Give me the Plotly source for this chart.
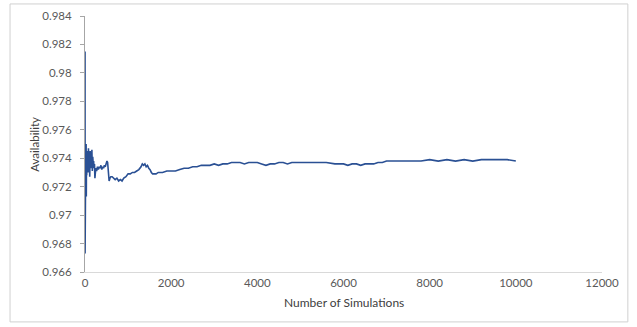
import plotly.graph_objects as go

# Number of simulations (x) and running availability estimate (y)
sims = [1, 2, 3, 4, 5, 6, 8, 10, 12, 15, 18, 22, 26, 30, 35, 40, 45, 50, 60, 70,
        80, 90, 100, 110, 120, 130, 140, 150, 160, 170, 180, 190, 200, 210, 220,
        230, 240, 250, 270, 290, 310, 330, 350, 370, 390, 410, 430, 450, 470, 490,
        510, 525, 540, 560, 580, 600, 630, 660, 700, 740, 780, 820, 860, 900, 950,
        1000, 1050, 1100, 1150, 1200, 1250, 1300, 1330, 1360, 1390, 1420, 1450,
        1480, 1510, 1540, 1570, 1600, 1650, 1700, 1800, 1900, 2000, 2100, 2200,
        2300, 2400, 2500, 2600, 2700, 2800, 2900, 3000, 3100, 3200, 3300, 3400,
        3500, 3600, 3700, 3800, 3900, 4000, 4100, 4200, 4300, 4400, 4500, 4600,
        4700, 4800, 4900, 5000, 5200, 5400, 5600, 5800, 6000, 6100, 6200, 6300,
        6400, 6500, 6600, 6700, 6800, 6900, 7000, 7200, 7400, 7600, 7800, 8000,
        8200, 8400, 8600, 8800, 9000, 9200, 9400, 9600, 9800, 10000]
availability = [0.9815, 0.9673, 0.9790, 0.9685, 0.9752, 0.9700, 0.9745, 0.9712, 0.9752, 0.9718,
                0.9748, 0.9735, 0.9750, 0.9713, 0.9742, 0.9728, 0.9745, 0.9732, 0.9740, 0.9730,
                0.9747, 0.9734, 0.9742, 0.9727, 0.9745, 0.9733, 0.9740, 0.9735, 0.9746, 0.9731,
                0.9741, 0.9736, 0.9738, 0.9733, 0.9736,
                0.9726, 0.9729, 0.9733, 0.9731, 0.9734, 0.9732, 0.9734, 0.9733, 0.9735, 0.9732,
                0.9734, 0.9733, 0.9735, 0.9734, 0.9736,
                0.9738, 0.9737, 0.9733, 0.9724, 0.9726, 0.9727, 0.9727, 0.9726, 0.9725, 0.9726,
                0.9724, 0.9725, 0.9724, 0.9726, 0.9727,
                0.9729, 0.9729, 0.9730, 0.9730, 0.9731, 0.9732, 0.9734, 0.9736, 0.9735, 0.9736,
                0.9734, 0.9735,
                0.9733, 0.9732, 0.9730, 0.9729, 0.9729, 0.9729, 0.9730, 0.9730, 0.9731, 0.9731,
                0.9731, 0.9732,
                0.9733, 0.9733, 0.9734, 0.9734, 0.9735, 0.9735, 0.9735, 0.9736, 0.9735, 0.9736,
                0.9736, 0.9737,
                0.9737, 0.9737, 0.9736, 0.9737, 0.9737, 0.9737, 0.9736, 0.9735, 0.9736, 0.9736,
                0.9737, 0.9737,
                0.9736, 0.9737, 0.9737, 0.9737, 0.9737, 0.9737, 0.9737, 0.9736, 0.9736, 0.9735,
                0.9736, 0.9736,
                0.9735, 0.9736, 0.9736, 0.9736, 0.9737, 0.9737, 0.9738, 0.9738, 0.9738, 0.9738,
                0.9738, 0.9739,
                0.9738, 0.9739, 0.9738, 0.9739, 0.9738, 0.9739, 0.9739, 0.9739, 0.9739, 0.9738]

y_ticks = [0.966, 0.968, 0.97, 0.972, 0.974, 0.976, 0.978, 0.98, 0.982, 0.984]
y_labels = ["0.966", "0.968", "0.97", "0.972", "0.974", "0.976", "0.978", "0.98", "0.982", "0.984"]
x_ticks = [0, 2000, 4000, 6000, 8000, 10000, 12000]
x_labels = ["0", "2000", "4000", "6000", "8000", "10000", "12000"]

fig = go.Figure()
fig.add_trace(go.Scatter(x=sims, y=availability, mode="lines",
                         line=dict(color="#2A5094", width=1.6), showlegend=False))

font_family = "Lato, Open Sans, sans-serif"
fig.update_layout(
    width=637, height=327,
    margin=dict(l=85, r=35, t=16, b=55),
    paper_bgcolor="white", plot_bgcolor="white",
    font=dict(family=font_family, color="#595959", size=11.5),
    xaxis=dict(range=[0, 12000], tickvals=x_ticks, ticktext=x_labels,
               showgrid=False, zeroline=False, showline=True, automargin=False,
               linecolor="#D9D9D9", linewidth=1, ticks=""),
    yaxis=dict(range=[0.966, 0.984], tickvals=y_ticks, ticktext=y_labels,
               showgrid=False, zeroline=False, showline=True, automargin=False,
               linecolor="#A6A6A6", linewidth=1, ticks="outside", ticklen=4,
               tickcolor="#A6A6A6", ticklabelstandoff=6),
    annotations=[
        dict(text="Number of Simulations", xref="paper", yref="paper",
             x=0.5, y=-0.082, xanchor="center", yanchor="top", showarrow=False,
             font=dict(size=12, color="#404040")),
        dict(text="Availability", xref="paper", yref="paper",
             x=-0.099, y=0.5, xanchor="center", yanchor="middle", showarrow=False,
             textangle=-90, font=dict(size=11.5, color="#404040")),
    ],
    shapes=[dict(type="rect", xref="paper", yref="paper",
                 x0=-0.145, x1=1.050, y0=-0.195, y1=1.047,
                 line=dict(color="#D0D0D0", width=1), fillcolor="rgba(0,0,0,0)")],
)

fig.write_html("out.html", config={"displayModeBar": False},
               post_script="document.body.style.margin='0';")
